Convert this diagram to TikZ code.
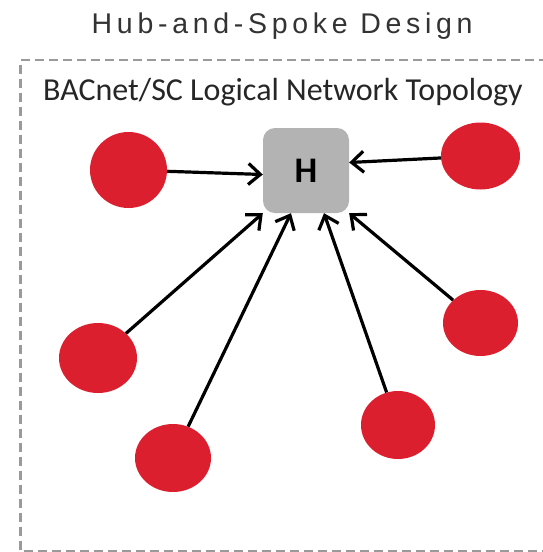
\documentclass[tikz,border=0pt]{standalone}
\usepackage{fontspec}
\setmainfont{Liberation Sans}
\newfontfamily\titlefont[LetterSpace=16.5]{Liberation Sans}
\newfontfamily\calfont{Carlito}
\usetikzlibrary{shapes.geometric,arrows.meta,calc}
\definecolor{spokered}{HTML}{DC1F2E}
\definecolor{hubgray}{HTML}{B3B3B3}
\definecolor{bordergray}{HTML}{9A9A9A}
\definecolor{titlegray}{HTML}{333333}
\definecolor{headgray}{HTML}{262626}
\begin{document}
\begin{tikzpicture}[x=1pt,y=-1pt,
  spoke/.style={ellipse,fill=spokered,draw=none,inner sep=0pt},
  hubbox/.style={rectangle,rounded corners=12pt,fill=hubgray,draw=none,
    minimum width=86pt,minimum height=85pt,inner sep=0pt},
  arr/.style={line width=3.2pt,-{Straight Barb[length=12pt,width=21pt,line width=3.2pt]}},
  frame/.style={draw=bordergray,line width=2.8pt,dash pattern=on 9pt off 5pt}]
\useasboundingbox (0,0) rectangle (542,552);
\fill[white] (0,0) rectangle (542,552);
% dashed frame (right side lies outside the picture)
\draw[frame] (548,60) -- (20.5,60) -- (20.5,551) -- (548,551);
% texts
\node[anchor=base west,inner sep=0pt,text=titlegray,font=\titlefont\fontsize{28.5}{28.5}\selectfont] (title) at (91.5,33.5) {Hub-and-Spoke Design};
\node[anchor=base west,inner sep=0pt,text=headgray,font=\calfont\fontsize{32}{32}\selectfont] (head) at (43,100) {BACnet/SC Logical Network Topology};
% hub
\node[hubbox] (hub) at (306,170.5) {};
\node[inner sep=0pt,font=\calfont\bfseries\fontsize{36}{36}\selectfont] (hlabel) at (hub.center) {H};
% spokes
\node[spoke,minimum width=77pt,minimum height=76pt] (c1) at (128.5,170) {};
\node[spoke,minimum width=79pt,minimum height=67pt] (c2) at (480.5,156) {};
\node[spoke,minimum width=78pt,minimum height=70pt] (c3) at (98,358) {};
\node[spoke,minimum width=76pt,minimum height=68pt] (c4) at (173,458) {};
\node[spoke,minimum width=74pt,minimum height=68pt] (c5) at (398,425) {};
\node[spoke,minimum width=75pt,minimum height=66pt] (c6) at (480.5,323) {};
% connectors
\draw[arr] (c1) -- ($(hub.west)+(0,4)$);
\draw[arr] (c2) -- ($(hub.east)+(0,-8)$);
\draw[arr] (c3) -- (hub.south west);
\draw[arr] (c4) -- ($(hub.south)+(-15,0)$);
\draw[arr] (c5) -- ($(hub.south)+(18,0)$);
\draw[arr] (c6) -- (hub.south east);
\end{tikzpicture}
\end{document}
